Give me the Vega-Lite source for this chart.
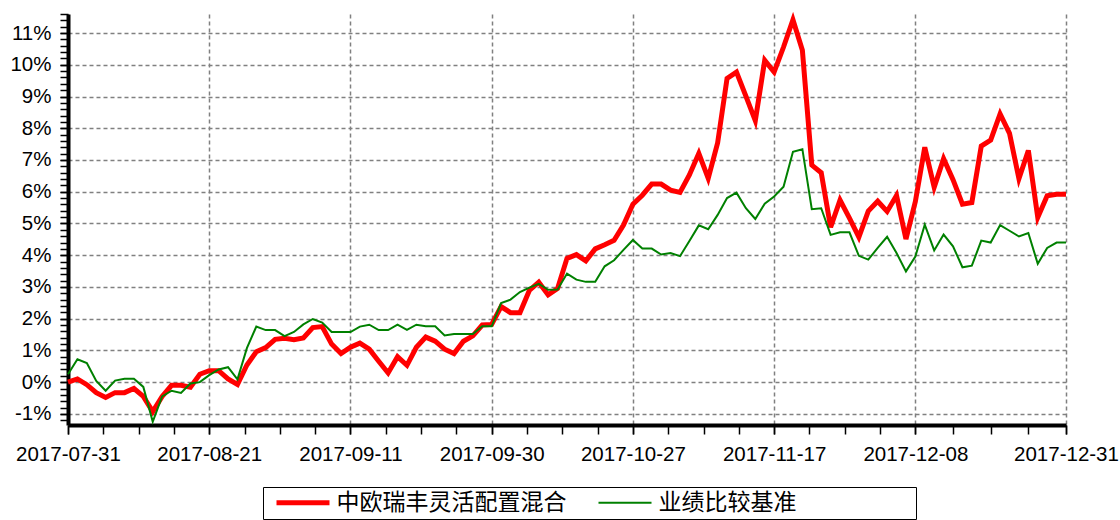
{
  "$schema": "https://vega.github.io/schema/vega-lite/v6.json",
  "width": 998,
  "height": 411,
  "autosize": {"type": "none"},
  "padding": {"left": 68, "top": 14, "right": 54, "bottom": 95},
  "background": "white",
  "config": {
    "view": {"stroke": null},
    "axis": {"labelFont": "Liberation Sans", "labelColor": "black", "labelFontSize": 20.5, "title": null},
    "legend": {"labelFont": "Noto Sans CJK SC", "labelColor": "black"}
  },
  "data": {
    "values": [
      {"i": 0, "date": "2017-07-31", "中欧瑞丰灵活配置混合": 0.00, "业绩比较基准": 0.25},
      {"i": 1, "date": "2017-08-01", "中欧瑞丰灵活配置混合": 0.10, "业绩比较基准": 0.72},
      {"i": 2, "date": "2017-08-02", "中欧瑞丰灵活配置混合": -0.08, "业绩比较基准": 0.60},
      {"i": 3, "date": "2017-08-03", "中欧瑞丰灵活配置混合": -0.33, "业绩比较基准": 0.04},
      {"i": 4, "date": "2017-08-04", "中欧瑞丰灵活配置混合": -0.48, "业绩比较基准": -0.27},
      {"i": 5, "date": "2017-08-07", "中欧瑞丰灵活配置混合": -0.33, "业绩比较基准": 0.05},
      {"i": 6, "date": "2017-08-08", "中欧瑞丰灵活配置混合": -0.33, "业绩比较基准": 0.11},
      {"i": 7, "date": "2017-08-09", "中欧瑞丰灵活配置混合": -0.20, "业绩比较基准": 0.11},
      {"i": 8, "date": "2017-08-10", "中欧瑞丰灵活配置混合": -0.45, "业绩比较基准": -0.15},
      {"i": 9, "date": "2017-08-11", "中欧瑞丰灵活配置混合": -0.93, "业绩比较基准": -1.25},
      {"i": 10, "date": "2017-08-14", "中欧瑞丰灵活配置混合": -0.45, "业绩比较基准": -0.45},
      {"i": 11, "date": "2017-08-15", "中欧瑞丰灵活配置混合": -0.10, "业绩比较基准": -0.27},
      {"i": 12, "date": "2017-08-16", "中欧瑞丰灵活配置混合": -0.10, "业绩比较基准": -0.34},
      {"i": 13, "date": "2017-08-17", "中欧瑞丰灵活配置混合": -0.16, "业绩比较基准": -0.04},
      {"i": 14, "date": "2017-08-18", "中欧瑞丰灵活配置混合": 0.25, "业绩比较基准": 0.00},
      {"i": 15, "date": "2017-08-21", "中欧瑞丰灵活配置混合": 0.36, "业绩比较基准": 0.22},
      {"i": 16, "date": "2017-08-22", "中欧瑞丰灵活配置混合": 0.36, "业绩比较基准": 0.40},
      {"i": 17, "date": "2017-08-23", "中欧瑞丰灵活配置混合": 0.10, "业绩比较基准": 0.47},
      {"i": 18, "date": "2017-08-24", "中欧瑞丰灵活配置混合": -0.07, "业绩比较基准": 0.09},
      {"i": 19, "date": "2017-08-25", "中欧瑞丰灵活配置混合": 0.54, "业绩比较基准": 1.07},
      {"i": 20, "date": "2017-08-28", "中欧瑞丰灵活配置混合": 0.96, "业绩比较基准": 1.75},
      {"i": 21, "date": "2017-08-29", "中欧瑞丰灵活配置混合": 1.09, "业绩比较基准": 1.64},
      {"i": 22, "date": "2017-08-30", "中欧瑞丰灵活配置混合": 1.35, "业绩比较基准": 1.64},
      {"i": 23, "date": "2017-08-31", "中欧瑞丰灵活配置混合": 1.38, "业绩比较基准": 1.45},
      {"i": 24, "date": "2017-09-01", "中欧瑞丰灵活配置混合": 1.34, "业绩比较基准": 1.58},
      {"i": 25, "date": "2017-09-04", "中欧瑞丰灵活配置混合": 1.39, "业绩比较基准": 1.82},
      {"i": 26, "date": "2017-09-05", "中欧瑞丰灵活配置混合": 1.72, "业绩比较基准": 1.99},
      {"i": 27, "date": "2017-09-06", "中欧瑞丰灵活配置混合": 1.75, "业绩比较基准": 1.88},
      {"i": 28, "date": "2017-09-07", "中欧瑞丰灵活配置混合": 1.20, "业绩比较基准": 1.58},
      {"i": 29, "date": "2017-09-08", "中欧瑞丰灵活配置混合": 0.90, "业绩比较基准": 1.58},
      {"i": 30, "date": "2017-09-11", "中欧瑞丰灵活配置混合": 1.10, "业绩比较基准": 1.58},
      {"i": 31, "date": "2017-09-12", "中欧瑞丰灵活配置混合": 1.23, "业绩比较基准": 1.75},
      {"i": 32, "date": "2017-09-13", "中欧瑞丰灵活配置混合": 1.04, "业绩比较基准": 1.81},
      {"i": 33, "date": "2017-09-14", "中欧瑞丰灵活配置混合": 0.66, "业绩比较基准": 1.64},
      {"i": 34, "date": "2017-09-15", "中欧瑞丰灵活配置混合": 0.29, "业绩比较基准": 1.64},
      {"i": 35, "date": "2017-09-18", "中欧瑞丰灵活配置混合": 0.80, "业绩比较基准": 1.81},
      {"i": 36, "date": "2017-09-19", "中欧瑞丰灵活配置混合": 0.53, "业绩比较基准": 1.65},
      {"i": 37, "date": "2017-09-20", "中欧瑞丰灵活配置混合": 1.10, "业绩比较基准": 1.81},
      {"i": 38, "date": "2017-09-21", "中欧瑞丰灵活配置混合": 1.42, "业绩比较基准": 1.76},
      {"i": 39, "date": "2017-09-22", "中欧瑞丰灵活配置混合": 1.29, "业绩比较基准": 1.76},
      {"i": 40, "date": "2017-09-25", "中欧瑞丰灵活配置混合": 1.04, "业绩比较基准": 1.47},
      {"i": 41, "date": "2017-09-26", "中欧瑞丰灵活配置混合": 0.90, "业绩比较基准": 1.52},
      {"i": 42, "date": "2017-09-27", "中欧瑞丰灵活配置混合": 1.29, "业绩比较基准": 1.52},
      {"i": 43, "date": "2017-09-28", "中欧瑞丰灵活配置混合": 1.46, "业绩比较基准": 1.52},
      {"i": 44, "date": "2017-09-29", "中欧瑞丰灵活配置混合": 1.80, "业绩比较基准": 1.76},
      {"i": 45, "date": "2017-09-30", "中欧瑞丰灵活配置混合": 1.82, "业绩比较基准": 1.76},
      {"i": 46, "date": "2017-10-09", "中欧瑞丰灵活配置混合": 2.38, "业绩比较基准": 2.49},
      {"i": 47, "date": "2017-10-10", "中欧瑞丰灵活配置混合": 2.19, "业绩比较基准": 2.60},
      {"i": 48, "date": "2017-10-11", "中欧瑞丰灵活配置混合": 2.19, "业绩比较基准": 2.84},
      {"i": 49, "date": "2017-10-12", "中欧瑞丰灵活配置混合": 2.89, "业绩比较基准": 2.98},
      {"i": 50, "date": "2017-10-13", "中欧瑞丰灵活配置混合": 3.15, "业绩比较基准": 3.10},
      {"i": 51, "date": "2017-10-16", "中欧瑞丰灵活配置混合": 2.75, "业绩比较基准": 2.91},
      {"i": 52, "date": "2017-10-17", "中欧瑞丰灵活配置混合": 2.95, "业绩比较基准": 2.92},
      {"i": 53, "date": "2017-10-18", "中欧瑞丰灵活配置混合": 3.90, "业绩比较基准": 3.42},
      {"i": 54, "date": "2017-10-19", "中欧瑞丰灵活配置混合": 4.02, "业绩比较基准": 3.23},
      {"i": 55, "date": "2017-10-20", "中欧瑞丰灵活配置混合": 3.82, "业绩比较基准": 3.16},
      {"i": 56, "date": "2017-10-23", "中欧瑞丰灵活配置混合": 4.20, "业绩比较基准": 3.16},
      {"i": 57, "date": "2017-10-24", "中欧瑞丰灵活配置混合": 4.33, "业绩比较基准": 3.65},
      {"i": 58, "date": "2017-10-25", "中欧瑞丰灵活配置混合": 4.47, "业绩比较基准": 3.84},
      {"i": 59, "date": "2017-10-26", "中欧瑞丰灵活配置混合": 4.95, "业绩比较基准": 4.17},
      {"i": 60, "date": "2017-10-27", "中欧瑞丰灵活配置混合": 5.61, "业绩比较基准": 4.48},
      {"i": 61, "date": "2017-10-30", "中欧瑞丰灵活配置混合": 5.89, "业绩比较基准": 4.21},
      {"i": 62, "date": "2017-10-31", "中欧瑞丰灵活配置混合": 6.24, "业绩比较基准": 4.21},
      {"i": 63, "date": "2017-11-01", "中欧瑞丰灵活配置混合": 6.24, "业绩比较基准": 4.02},
      {"i": 64, "date": "2017-11-02", "中欧瑞丰灵活配置混合": 6.05, "业绩比较基准": 4.07},
      {"i": 65, "date": "2017-11-03", "中欧瑞丰灵活配置混合": 5.98, "业绩比较基准": 3.97},
      {"i": 66, "date": "2017-11-06", "中欧瑞丰灵活配置混合": 6.53, "业绩比较基准": 4.45},
      {"i": 67, "date": "2017-11-07", "中欧瑞丰灵活配置混合": 7.21, "业绩比较基准": 4.94},
      {"i": 68, "date": "2017-11-08", "中欧瑞丰灵活配置混合": 6.42, "业绩比较基准": 4.82},
      {"i": 69, "date": "2017-11-09", "中欧瑞丰灵活配置混合": 7.54, "业绩比较基准": 5.27},
      {"i": 70, "date": "2017-11-10", "中欧瑞丰灵活配置混合": 9.57, "业绩比较基准": 5.80},
      {"i": 71, "date": "2017-11-13", "中欧瑞丰灵活配置混合": 9.77, "业绩比较基准": 5.97},
      {"i": 72, "date": "2017-11-14", "中欧瑞丰灵活配置混合": 9.01, "业绩比较基准": 5.48},
      {"i": 73, "date": "2017-11-15", "中欧瑞丰灵活配置混合": 8.24, "业绩比较基准": 5.14},
      {"i": 74, "date": "2017-11-16", "中欧瑞丰灵活配置混合": 10.14, "业绩比较基准": 5.62},
      {"i": 75, "date": "2017-11-17", "中欧瑞丰灵活配置混合": 9.77, "业绩比较基准": 5.85},
      {"i": 76, "date": "2017-11-20", "中欧瑞丰灵活配置混合": 10.56, "业绩比较基准": 6.16},
      {"i": 77, "date": "2017-11-21", "中欧瑞丰灵活配置混合": 11.42, "业绩比较基准": 7.26},
      {"i": 78, "date": "2017-11-22", "中欧瑞丰灵活配置混合": 10.46, "业绩比较基准": 7.34},
      {"i": 79, "date": "2017-11-23", "中欧瑞丰灵活配置混合": 6.84, "业绩比较基准": 5.45},
      {"i": 80, "date": "2017-11-24", "中欧瑞丰灵活配置混合": 6.60, "业绩比较基准": 5.48},
      {"i": 81, "date": "2017-11-27", "中欧瑞丰灵活配置混合": 4.88, "业绩比较基准": 4.64},
      {"i": 82, "date": "2017-11-28", "中欧瑞丰灵活配置混合": 5.74, "业绩比较基准": 4.72},
      {"i": 83, "date": "2017-11-29", "中欧瑞丰灵活配置混合": 5.17, "业绩比较基准": 4.72},
      {"i": 84, "date": "2017-11-30", "中欧瑞丰灵活配置混合": 4.57, "业绩比较基准": 3.98},
      {"i": 85, "date": "2017-12-01", "中欧瑞丰灵活配置混合": 5.39, "业绩比较基准": 3.86},
      {"i": 86, "date": "2017-12-04", "中欧瑞丰灵活配置混合": 5.70, "业绩比较基准": 4.23},
      {"i": 87, "date": "2017-12-05", "中欧瑞丰灵活配置混合": 5.38, "业绩比较基准": 4.58},
      {"i": 88, "date": "2017-12-06", "中欧瑞丰灵活配置混合": 5.88, "业绩比较基准": 4.07},
      {"i": 89, "date": "2017-12-07", "中欧瑞丰灵活配置混合": 4.51, "业绩比较基准": 3.49},
      {"i": 90, "date": "2017-12-08", "中欧瑞丰灵活配置混合": 5.69, "业绩比较基准": 3.96},
      {"i": 91, "date": "2017-12-11", "中欧瑞丰灵活配置混合": 7.40, "业绩比较基准": 4.96},
      {"i": 92, "date": "2017-12-12", "中欧瑞丰灵活配置混合": 6.14, "业绩比较基准": 4.15},
      {"i": 93, "date": "2017-12-13", "中欧瑞丰灵活配置混合": 7.04, "业绩比较基准": 4.65},
      {"i": 94, "date": "2017-12-14", "中欧瑞丰灵活配置混合": 6.38, "业绩比较基准": 4.28},
      {"i": 95, "date": "2017-12-15", "中欧瑞丰灵活配置混合": 5.61, "业绩比较基准": 3.62},
      {"i": 96, "date": "2017-12-18", "中欧瑞丰灵活配置混合": 5.66, "业绩比较基准": 3.67},
      {"i": 97, "date": "2017-12-19", "中欧瑞丰灵活配置混合": 7.44, "业绩比较基准": 4.46},
      {"i": 98, "date": "2017-12-20", "中欧瑞丰灵活配置混合": 7.63, "业绩比较基准": 4.40},
      {"i": 99, "date": "2017-12-21", "中欧瑞丰灵活配置混合": 8.45, "业绩比较基准": 4.95},
      {"i": 100, "date": "2017-12-22", "中欧瑞丰灵活配置混合": 7.84, "业绩比较基准": 4.77},
      {"i": 101, "date": "2017-12-25", "中欧瑞丰灵活配置混合": 6.41, "业绩比较基准": 4.59},
      {"i": 102, "date": "2017-12-26", "中欧瑞丰灵活配置混合": 7.30, "业绩比较基准": 4.70},
      {"i": 103, "date": "2017-12-27", "中欧瑞丰灵活配置混合": 5.19, "业绩比较基准": 3.73},
      {"i": 104, "date": "2017-12-28", "中欧瑞丰灵活配置混合": 5.87, "业绩比较基准": 4.23},
      {"i": 105, "date": "2017-12-29", "中欧瑞丰灵活配置混合": 5.92, "业绩比较基准": 4.40},
      {"i": 106, "date": "2017-12-31", "中欧瑞丰灵活配置混合": 5.92, "业绩比较基准": 4.40}
    ]
  },
  "transform": [
    {"fold": ["中欧瑞丰灵活配置混合", "业绩比较基准"], "as": ["series", "value"]}
  ],
  "resolve": {"axis": {"x": "independent", "y": "independent"}},
  "layer": [
    {
      "transform": [{"filter": "datum.series === '中欧瑞丰灵活配置混合'"}],
      "mark": {"type": "line", "strokeJoin": "miter"},
      "encoding": {
        "x": {
          "field": "i", "type": "quantitative",
          "scale": {"domain": [0, 106], "nice": false, "zero": false},
          "axis": {
            "orient": "bottom",
            "values": [0, 15, 30, 45, 60, 75, 90, 106],
            "labelExpr": "datum.value == 0 ? '2017-07-31' : datum.value == 15 ? '2017-08-21' : datum.value == 30 ? '2017-09-11' : datum.value == 45 ? '2017-09-30' : datum.value == 60 ? '2017-10-27' : datum.value == 75 ? '2017-11-17' : datum.value == 90 ? '2017-12-08' : '2017-12-31'",
            "grid": true, "gridColor": "#808080", "gridDash": [4, 3], "gridWidth": 1.5,
            "domain": true, "domainColor": "black", "domainWidth": 4,
            "ticks": true, "tickSize": 9, "tickColor": "black", "tickWidth": 1.5,
            "labelPadding": 10, "labelFlush": false, "labelOverlap": false
          }
        },
        "y": {
          "field": "value", "type": "quantitative",
          "scale": {"domain": [-1.35, 11.6], "nice": false, "zero": false},
          "axis": {
            "orient": "left",
            "values": [-1, 0, 1, 2, 3, 4, 5, 6, 7, 8, 9, 10, 11],
            "labelExpr": "datum.value + '%'",
            "grid": true, "gridColor": "#808080", "gridDash": [4, 3], "gridWidth": 1.5,
            "domain": true, "domainColor": "black", "domainWidth": 4,
            "ticks": true, "tickSize": 8, "tickColor": "black", "tickWidth": 1.5,
            "labelPadding": 9, "labelOverlap": false
          }
        },
        "color": {
          "field": "series", "type": "nominal",
          "scale": {"domain": ["中欧瑞丰灵活配置混合", "业绩比较基准"], "range": ["#ff0000", "#008000"]},
          "legend": {
            "orient": "none", "legendX": 195, "legendY": 473,
            "direction": "horizontal", "columns": 2, "gridAlign": "each",
            "columnPadding": 22, "title": null,
            "symbolType": "M-2.65,0H2.65", "symbolSize": 400, "symbolOffset": 24.5,
            "labelFontSize": 23, "labelOffset": 22, "labelLimit": 500,
            "labelExpr": "datum.value === '业绩比较基准' ? datum.label + '\u3000\u3000\u3000\u3000\u3000\u200B' : datum.label",
            "padding": 4, "strokeColor": "black", "fillColor": "white",
            "encode": {"symbols": {"update": {"strokeWidth": {"signal": "datum.value === '业绩比较基准' ? 2 : 5"}}}}
          }
        },
        "strokeWidth": {"value": 5}
      }
    },
    {
      "transform": [{"filter": "datum.series === '业绩比较基准'"}],
      "mark": {"type": "line", "strokeJoin": "miter"},
      "encoding": {
        "x": {"field": "i", "type": "quantitative", "axis": null},
        "y": {"field": "value", "type": "quantitative", "axis": null},
        "color": {"field": "series", "type": "nominal"},
        "strokeWidth": {"value": 2}
      }
    },
    {
      "mark": {"type": "point", "opacity": 0},
      "encoding": {
        "x": {
          "field": "i", "type": "quantitative",
          "axis": {
            "orient": "bottom", "labels": false, "grid": false, "domain": false,
            "ticks": true, "tickSize": 9, "tickColor": "black", "tickWidth": 1.5,
            "values": [0, 3.75, 7.5, 11.25, 15, 18.75, 22.5, 26.25, 30, 33.75, 37.5, 41.25, 45, 48.75, 52.5, 56.25, 60, 63.75, 67.5, 71.25, 75, 78.75, 82.5, 86.25, 90, 94, 98, 102, 106]
          }
        },
        "y": {
          "field": "value", "type": "quantitative",
          "axis": {
            "orient": "left", "labels": false, "grid": false, "domain": false,
            "ticks": true, "tickSize": 8, "tickColor": "black", "tickWidth": 1.5,
            "values": [-1.2, -1, -0.8, -0.6, -0.4, -0.2, 0, 0.2, 0.4, 0.6, 0.8, 1, 1.2, 1.4, 1.6, 1.8, 2, 2.2, 2.4, 2.6, 2.8, 3, 3.2, 3.4, 3.6, 3.8, 4, 4.2, 4.4, 4.6, 4.8, 5, 5.2, 5.4, 5.6, 5.8, 6, 6.2, 6.4, 6.6, 6.8, 7, 7.2, 7.4, 7.6, 7.8, 8, 8.2, 8.4, 8.6, 8.8, 9, 9.2, 9.4, 9.6, 9.8, 10, 10.2, 10.4, 10.6, 10.8, 11, 11.2, 11.4, 11.6]
          }
        }
      }
    }
  ]
}
